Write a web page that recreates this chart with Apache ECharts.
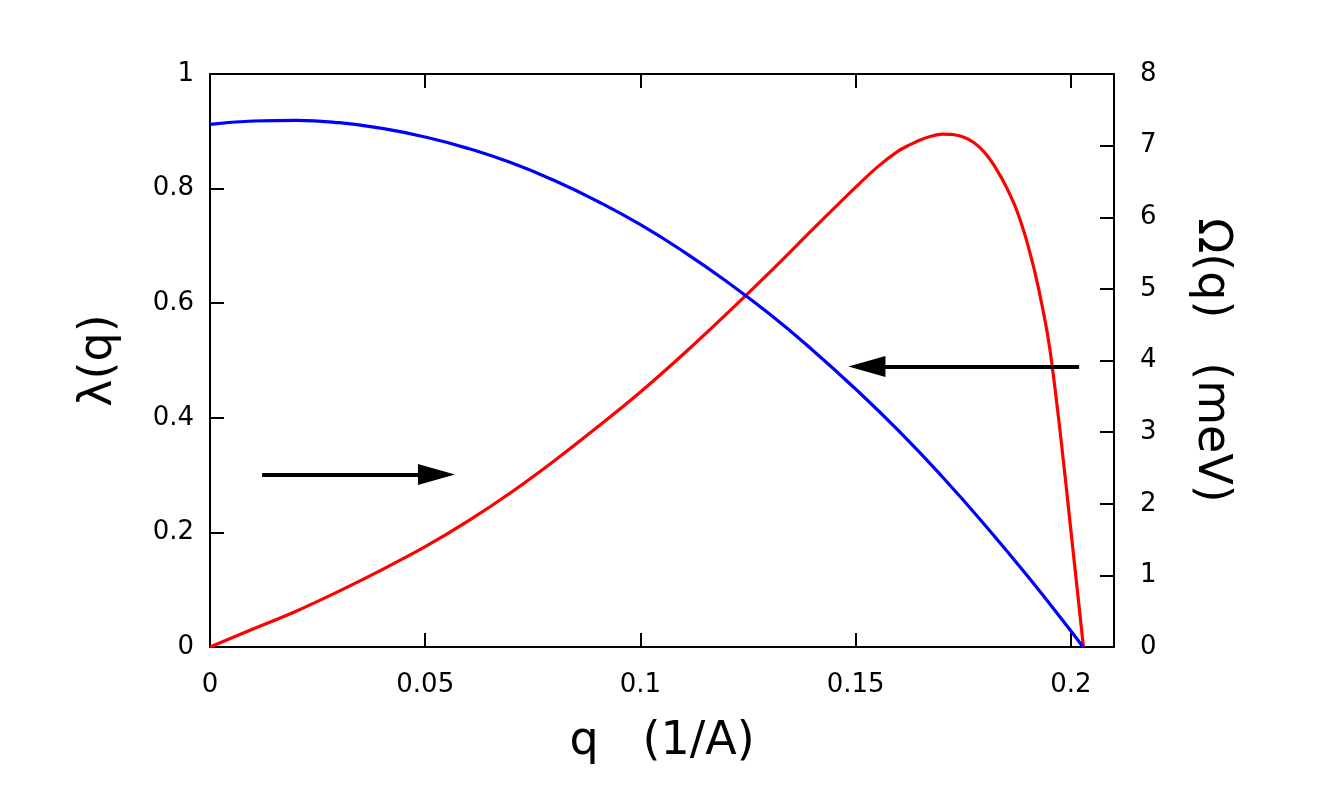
<!DOCTYPE html>
<html>
<head>
<meta charset="utf-8">
<title>lambda(q) and Omega(q)</title>
<script src="https://cdn.jsdelivr.net/npm/echarts@6/dist/echarts.min.js"></script>
<style>
  html, body { margin: 0; padding: 0; background: #fff; }
  #chart { width: 1334px; height: 800px; }
</style>
</head>
<body>
<div id="chart"></div>
<script>
// lambda(q), left axis
const qLambda = [0, 0.01, 0.02, 0.03, 0.04, 0.05, 0.06, 0.07, 0.08, 0.09, 0.1, 0.11, 0.12, 0.13, 0.14, 0.15, 0.16, 0.17, 0.18, 0.19, 0.2, 0.2028]
const lambdaVals = [0.912, 0.918, 0.919, 0.915, 0.905, 0.890, 0.870, 0.845, 0.814, 0.778, 0.737, 0.690, 0.638, 0.581, 0.518, 0.450, 0.377, 0.298, 0.213, 0.123, 0.028, 0]

// Omega(q) in meV, right axis
const qOmega = [0, 0.01, 0.02, 0.03, 0.04, 0.05, 0.06, 0.07, 0.08, 0.09, 0.1, 0.11, 0.12, 0.13, 0.14, 0.15, 0.155,
  0.16, 0.1625, 0.165, 0.1675, 0.17, 0.1725, 0.175, 0.1775, 0.18, 0.1825, 0.185, 0.1875, 0.19, 0.1925, 0.195, 0.1975, 0.2, 0.2029]
const omegaVals = [0, 0.25, 0.50, 0.78, 1.08, 1.40, 1.76, 2.16, 2.60, 3.07, 3.56, 4.09, 4.65, 5.23, 5.83, 6.42, 6.70,
  6.93, 7.01, 7.08, 7.13, 7.16, 7.155, 7.12, 7.04, 6.90, 6.69, 6.42, 6.08, 5.61, 5.00, 4.20, 3.00, 1.62, 0]

// arrows: [q start, q at head centre, level on its own axis]
const arrowRight = [0.0121, 0.0526, 0.301]   // lambda units
const arrowLeft = [0.2019, 0.1526, 3.915]    // Omega units

const font = 'DejaVu Sans'
const chart = echarts.init(document.getElementById('chart'))

const zip = (xs, ys) => xs.map((x, i) => [x, ys[i]])

const arrowLine = (a) => ({
  silent: true,
  animation: false,
  label: { show: false },
  lineStyle: { color: '#000', width: 3.8, type: 'solid' },
  emphasis: { disabled: true },
  data: [[
    { coord: [a[0], a[2]], symbol: 'none' },
    { coord: [a[1], a[2]], symbol: 'triangle', symbolSize: [21, 37] }
  ]]
})

const axisLine = { show: true, onZero: false, lineStyle: { color: '#000', width: 2 } }
const axisTick = { show: true, inside: true, length: 14, lineStyle: { color: '#000', width: 2 } }
const titleStyle = { fontFamily: font, fontSize: 46, color: '#000' }

const option = {
  backgroundColor: '#fff',
  animation: false,
  grid: { left: 210, right: 220, top: 74, bottom: 153 },
  xAxis: [
    {
      type: 'value',
      min: 0,
      max: 0.21,
      interval: 0.05,
      name: 'q   (1/A)',
      nameLocation: 'middle',
      nameGap: 72,
      nameTextStyle: titleStyle,
      axisLine: axisLine,
      axisTick: axisTick,
      axisLabel: {
        margin: 25,
        fontFamily: font,
        fontSize: 26,
        color: '#000',
        formatter: (v) => {
          const k = v / 0.05
          return Math.abs(k - Math.round(k)) < 1e-6 ? String(+v.toFixed(2)) : ''
        }
      },
      splitLine: { show: false }
    },
    {
      type: 'value',
      position: 'top',
      min: 0,
      max: 0.21,
      interval: 0.05,
      axisLine: axisLine,
      axisTick: axisTick,
      axisLabel: { show: false },
      splitLine: { show: false }
    }
  ],
  yAxis: [
    {
      type: 'value',
      min: 0,
      max: 1,
      interval: 0.2,
      name: 'λ(q)',
      nameLocation: 'middle',
      nameRotate: 90,
      nameGap: 88,
      nameTextStyle: titleStyle,
      axisLine: axisLine,
      axisTick: axisTick,
      axisLabel: { margin: 16, fontFamily: font, fontSize: 26, color: '#000' },
      splitLine: { show: false }
    },
    {
      type: 'value',
      position: 'right',
      min: 0,
      max: 8,
      interval: 1,
      name: 'Ω(q)   (meV)',
      nameLocation: 'middle',
      nameRotate: -90,
      nameGap: 74,
      nameTextStyle: titleStyle,
      axisLine: axisLine,
      axisTick: axisTick,
      axisLabel: { margin: 26, fontFamily: font, fontSize: 26, color: '#000' },
      splitLine: { show: false }
    }
  ],
  series: [
    {
      name: 'Omega',
      type: 'line',
      xAxisIndex: 0,
      yAxisIndex: 1,
      data: zip(qOmega, omegaVals),
      showSymbol: false,
      smooth: 0.3,
      lineStyle: { color: '#ff0000', width: 3.2 },
      markLine: arrowLine(arrowLeft)
    },
    {
      name: 'lambda',
      type: 'line',
      xAxisIndex: 0,
      yAxisIndex: 0,
      data: zip(qLambda, lambdaVals),
      showSymbol: false,
      smooth: 0.5,
      lineStyle: { color: '#0000ff', width: 3.2 },
      markLine: arrowLine(arrowRight)
    }
  ]
}

chart.setOption(option)
</script>
</body>
</html>
